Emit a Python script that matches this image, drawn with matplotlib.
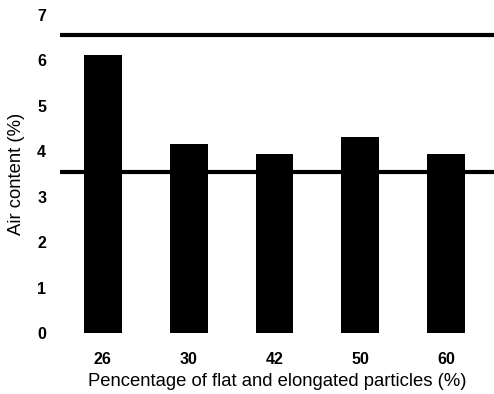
import matplotlib
matplotlib.use("Agg")
import matplotlib.pyplot as plt

categories = ["26", "30", "42", "50", "60"]
air_content = [6.12, 4.16, 3.94, 4.32, 3.94]
upper_limit = 6.55
lower_limit = 3.55
yticks = [0, 1, 2, 3, 4, 5, 6, 7]

plt.rcParams['font.family'] = ['Liberation Sans', 'DejaVu Sans']

fig = plt.figure(figsize=(4.94, 3.94), dpi=100)
ax = fig.add_axes([0.1215, 0.155, 0.879, 0.807])

x = list(range(len(categories)))
ax.bar(x, air_content, width=0.44, color='black', zorder=2)
ax.axhline(upper_limit, color='black', lw=3, zorder=3)
ax.axhline(lower_limit, color='black', lw=3, zorder=3)

ax.set_xlim(-0.5, 4.56)
ax.set_ylim(0, 7)
ax.set_xticks(x)
ax.set_xticklabels(categories, fontweight='bold', fontsize=11.5)
ax.set_yticks(yticks)
ax.set_yticklabels([str(v) for v in yticks], fontweight='bold', fontsize=11.5)
ax.tick_params(axis='both', length=0)
ax.tick_params(axis='y', pad=10)
ax.tick_params(axis='x', pad=14)
for s in ax.spines.values():
    s.set_visible(False)

ax.set_xlabel("Pencentage of flat and elongated particles (%)", fontsize=13.3, labelpad=4)
ax.set_ylabel("Air content (%)", fontsize=13.3, labelpad=9)

fig.savefig("out.png", dpi=100)
